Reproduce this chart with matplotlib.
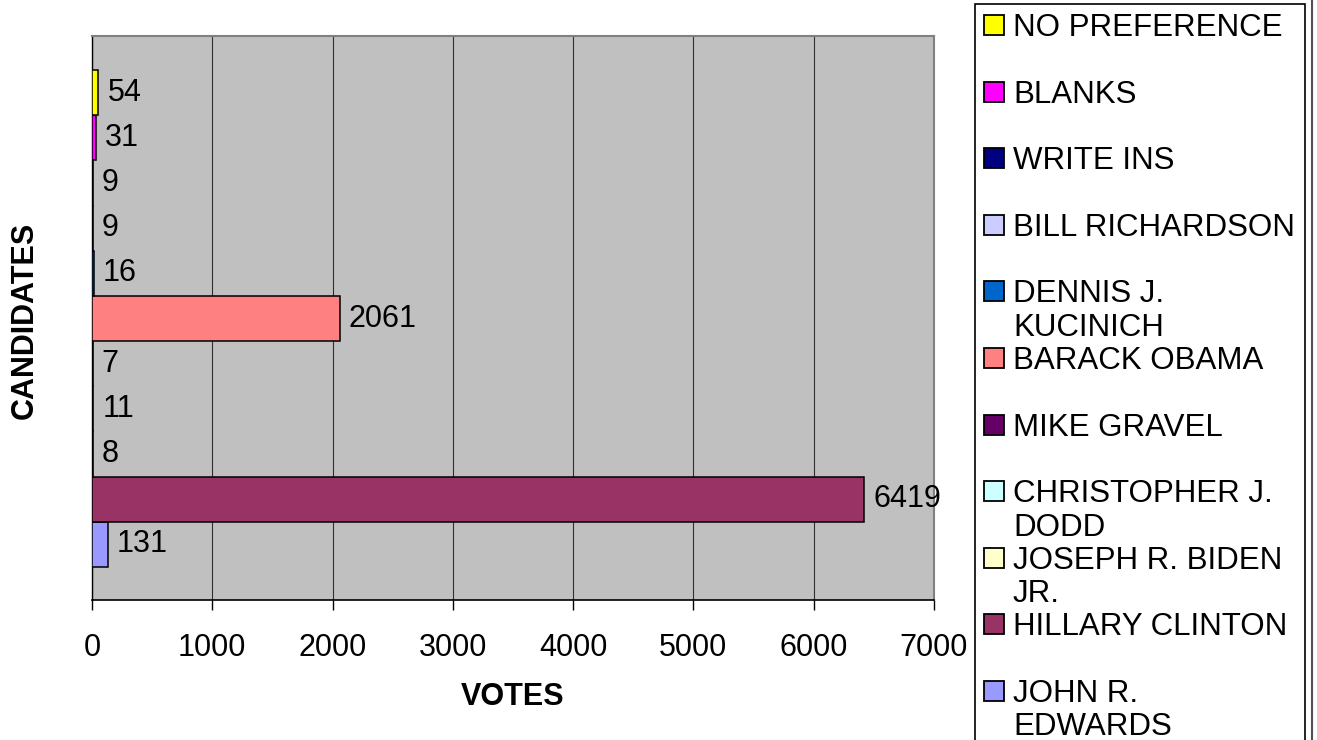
import matplotlib
matplotlib.use("Agg")
import matplotlib.pyplot as plt
from matplotlib.patches import Rectangle
from matplotlib.lines import Line2D

plt.rcParams['font.family'] = ['Liberation Sans', 'DejaVu Sans']

# bottom bar first (as drawn from the bottom of the chart up)
candidates = ["JOHN R.\nEDWARDS", "HILLARY CLINTON", "JOSEPH R. BIDEN\nJR.",
              "CHRISTOPHER J.\nDODD", "MIKE GRAVEL", "BARACK OBAMA",
              "DENNIS J.\nKUCINICH", "BILL RICHARDSON", "WRITE INS",
              "BLANKS", "NO PREFERENCE"]
votes = [131, 6419, 8, 11, 7, 2061, 16, 9, 9, 31, 54]
colors = ["#9999FF", "#993366", "#FFFFCC", "#CCFFFF", "#660066", "#FF8080",
          "#0066CC", "#CCCCFF", "#000080", "#FF00FF", "#FFFF00"]
xticks = [0, 1000, 2000, 3000, 4000, 5000, 6000, 7000]

W, H = 1317, 740
fig = plt.figure(figsize=(W / 100, H / 100), dpi=100)
ax = fig.add_axes([92 / W, 1 - 600 / H, 842 / W, 564 / H])
ax.set_facecolor("#C0C0C0")

pos = list(range(len(votes)))
ax.barh(pos, votes, height=1.0, color=colors, edgecolor="black",
        linewidth=1.1, zorder=3)
for y, v in zip(pos, votes):
    ax.annotate(str(v), (v, y), xytext=(6.5, 0), textcoords="offset points",
                va="center", ha="left", fontsize=22, zorder=4)

ax.set_xlim(0, 7000)
ax.set_ylim(-1.233, 11.256)
ax.set_xticks(xticks)
ax.set_xticklabels([str(t) for t in xticks], fontsize=22)
ax.set_yticks([])
ax.tick_params(axis="x", direction="out", length=7.5, width=1, pad=16)
ax.xaxis.grid(True, color="#303030", linewidth=0.8, zorder=1)

ax.spines["left"].set_color("black")
ax.spines["bottom"].set_color("black")
ax.spines["left"].set_linewidth(1)
ax.spines["bottom"].set_linewidth(1.2)
ax.spines["top"].set_color("#808080")
ax.spines["right"].set_color("#808080")
ax.spines["top"].set_linewidth(1.5)
ax.spines["right"].set_linewidth(1.5)

fig.text(513 / W, 1 - 697 / H, "VOTES", ha="center", va="center",
         fontsize=22, fontweight="bold")
fig.text(25 / W, 1 - 320 / H, "CANDIDATES", ha="center", va="center",
         rotation=90, fontsize=22, fontweight="bold")

# legend box, drawn by hand (entries top to bottom)
fig.patches.append(Rectangle((975 / W, -0.05), 330 / W, 1.05 - 4 / H,
                             transform=fig.transFigure, facecolor="white",
                             edgecolor="black", linewidth=1.2))
fig.lines.append(Line2D([1312 / W, 1312 / W], [0, 1], transform=fig.transFigure,
                        color="#505050", linewidth=1.5))
for i, (name, c) in enumerate(zip(candidates[::-1], colors[::-1])):
    yc = 25 + 66.6 * i
    fig.patches.append(Rectangle((984 / W, 1 - (yc + 10) / H), 20 / W, 20 / H,
                                 transform=fig.transFigure, facecolor=c,
                                 edgecolor="black", linewidth=1.3))
    fig.text(1013 / W, 1 - (yc - 12) / H, name, ha="left", va="top",
             fontsize=22.5, linespacing=1.15)

fig.savefig("out.png", dpi=100)
